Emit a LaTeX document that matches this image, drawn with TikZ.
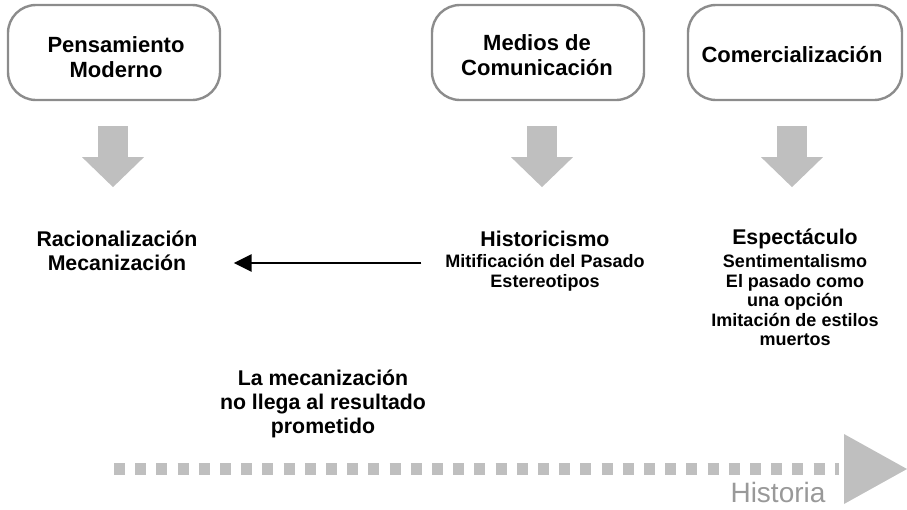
\documentclass[tikz,border=0pt]{standalone}
\usepackage{fontspec}
\setmainfont{Liberation Sans}
\usetikzlibrary{arrows.meta}
\usetikzlibrary{positioning}
\tikzset{
  caja/.style={draw=black!45, line width=2.4pt, rounded corners=28pt, minimum width=212pt, minimum height=95pt},
  rotulo/.style={align=center, inner sep=1pt, font=\bfseries\fontsize{22}{25}\selectfont},
  titulo/.style={align=center, inner sep=1pt, font=\bfseries\fontsize{21.3}{24}\selectfont},
  detalle/.style={align=center, inner sep=1pt, font=\bfseries\fontsize{18}{19.5}\selectfont},
  bajada/.style={draw=gray!50, line width=30pt, -{Triangle[length=30pt,width=60pt]}},
  flecha/.style={line width=2.7pt, -{Triangle[length=18pt,width=17pt]}},
  linea/.style={draw=gray!50, line width=12pt, dash pattern=on 11pt off 10.2pt},
}

\begin{document}
\begin{tikzpicture}[x=1pt, y=-1pt]
    \useasboundingbox (0,0) rectangle (907,509);
    %% boxes
    \draw (114,52.5) node[caja](pm){} ;
    \draw (538,52.5) node[caja](mc){} ;
    \draw (795,52.5) node[caja, minimum width=214pt](com){} ;
    \draw (116,57.5) node[rotulo](pmt){Pensamiento\\Moderno} ;
    \draw (537,55) node[rotulo](mct){Medios de\\Comunicación} ;
    \draw (792,55) node[rotulo](comt){Comercialización} ;
    %% results
    \draw (117,251) node[titulo](rac){Racionalización\\Mecanización} ;
    \draw (545,239) node[titulo](hist){Historicismo} ;
    \draw (545,273) node[detalle](histsub){Mitificación del Pasado\\Estereotipos} ;
    \draw (795,239) node[titulo](esp){Espectáculo} ;
    \draw (795,300.5) node[detalle](espsub){Sentimentalismo\\El pasado como\\una opción\\Imitación de estilos\\muertos} ;
    \draw (323,403.5) node[titulo](nota){La mecanización\\no llega al resultado\\prometido} ;
    %% -- grey arrows down
    \draw[bajada] ([xshift=-1pt, yshift=-25pt]pm.south) -- ++(0,61) ;
    \draw[bajada] ([xshift=4pt, yshift=-25pt]mc.south) -- ++(0,61) ;
    \draw[bajada] ([xshift=-3pt, yshift=-25pt]com.south) -- ++(0,61) ;
    %% -- arrow back
    \draw[flecha, shorten <=23pt, shorten >=35pt] (histsub.west |- 0,263) -- (rac.east |- 0,263) ;
    %% time line
    \coordinate (tini) at (114,469) ;
    \coordinate (tfin) at (839,469) ;
    \coordinate (tpunta) at (907,469) ;
    \draw[linea] (tini) -- (tfin) ;
    \fill[gray!50] ([xshift=5pt, yshift=35pt]tfin) -- (tpunta) -- ([xshift=5pt, yshift=-35pt]tfin) -- cycle ;
    \draw (778,492) node[text=black!40, font=\fontsize{28}{28}\selectfont](etiq){Historia} ;
\end{tikzpicture}
\end{document}
